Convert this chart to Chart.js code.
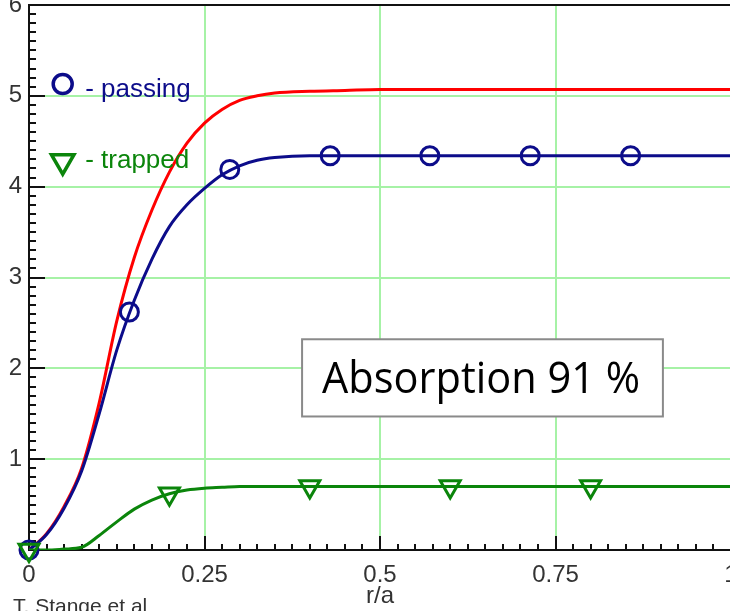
<!DOCTYPE html>
<html>
<head>
<meta charset="utf-8">
<script src="https://cdn.jsdelivr.net/npm/chart.js@4/dist/chart.umd.min.js"></script>
<style>
  html, body { margin: 0; padding: 0; background: #fff; overflow: hidden; }
  #wrap { width: 730px; height: 611px; overflow: hidden; }
  canvas { display: block; }
</style>
</head>
<body>
<div id="wrap"><canvas id="chart" width="740" height="611"></canvas></div>
<script>
const rA = [0, 0.025, 0.05, 0.075, 0.1, 0.125, 0.15, 0.175, 0.2, 0.225, 0.25, 0.275, 0.3, 0.325, 0.35, 0.4, 0.45, 0.5, 0.6, 0.7, 0.8, 0.9, 1.0];
// total (red)
const totalVals = [0, 0.18, 0.48, 0.9, 1.62, 2.52, 3.22, 3.74, 4.16, 4.48, 4.7, 4.85, 4.95, 5.0, 5.03, 5.05, 5.06, 5.07, 5.07, 5.07, 5.07, 5.07, 5.07];
// passing (blue)
const passingVals = [0, 0.17, 0.46, 0.87, 1.5, 2.2, 2.75, 3.2, 3.56, 3.8, 3.98, 4.13, 4.23, 4.29, 4.32, 4.34, 4.34, 4.34, 4.34, 4.34, 4.34, 4.34, 4.34];
// trapped (green)
const trappedVals = [0, 0, 0.01, 0.03, 0.16, 0.31, 0.45, 0.55, 0.62, 0.66, 0.68, 0.69, 0.7, 0.7, 0.7, 0.7, 0.7, 0.7, 0.7, 0.7, 0.7, 0.7, 0.7];

// marker positions
const passMarkX = [0, 0.143, 0.286, 0.429, 0.571, 0.714, 0.857];
const passMarkY = [0, 2.62, 4.19, 4.34, 4.34, 4.34, 4.34];
const trapMarkX = [0, 0.2, 0.4, 0.6, 0.8];
const trapMarkY = [0, 0.62, 0.7, 0.7, 0.7];

const legendLabels = ['- passing', '- trapped'];
const boxText = 'Absorption 91 %';
const creditText = 'T. Stange et al';

const NAVY = '#0c0c8a';
const GREEN = '#0b850b';
const RED = '#ff0000';
const GRID = '#a6f2a6';

const toPts = (xs, ys) => xs.map((x, i) => ({ x: x, y: ys[i] }));

const gridColor = (min, max) => (c) =>
  (c.tick && c.tick.value > min && c.tick.value < max) ? GRID : 'rgba(0,0,0,0)';

const minorTicks = {
  id: 'minorTicks',
  beforeDatasetsDraw(chart) {
    const { ctx, chartArea, scales: { x, y } } = chart;
    ctx.save();
    ctx.strokeStyle = '#111';
    ctx.lineWidth = 2;
    ctx.beginPath();
    for (let i = 0; i <= 40; i++) {
      const px = Math.round(x.getPixelForValue(i * 0.025));
      const len = i % 10 === 0 ? 14 : 6;
      ctx.moveTo(px, chartArea.bottom);
      ctx.lineTo(px, chartArea.bottom - len);
    }
    for (let i = 0; i <= 60; i++) {
      const py = Math.round(y.getPixelForValue(i * 0.1));
      const len = i % 10 === 0 ? 16 : 7;
      ctx.moveTo(chartArea.left, py);
      ctx.lineTo(chartArea.left + len, py);
    }
    ctx.stroke();
    // top frame line
    ctx.beginPath();
    ctx.moveTo(chartArea.left, chartArea.top);
    ctx.lineTo(chartArea.right, chartArea.top);
    ctx.stroke();
    ctx.restore();
  }
};

const overlay = {
  id: 'overlay',
  afterDraw(chart) {
    const { ctx, scales: { x, y } } = chart;
    ctx.save();
    // legend
    ctx.lineWidth = 3.5;
    ctx.strokeStyle = NAVY;
    ctx.beginPath();
    ctx.arc(x.getPixelForValue(0.048), y.getPixelForValue(5.13), 9.5, 0, Math.PI * 2);
    ctx.stroke();
    const tx = x.getPixelForValue(0.048), ty = y.getPixelForValue(4.28), R = 13;
    ctx.strokeStyle = GREEN;
    ctx.beginPath();
    ctx.moveTo(tx, ty + R);
    ctx.lineTo(tx - R * Math.sin(Math.PI / 3), ty - R / 2);
    ctx.lineTo(tx + R * Math.sin(Math.PI / 3), ty - R / 2);
    ctx.closePath();
    ctx.stroke();
    ctx.font = '26px "Liberation Sans", Arial, sans-serif';
    ctx.textBaseline = 'alphabetic';
    ctx.textAlign = 'left';
    ctx.fillStyle = NAVY;
    ctx.fillText(legendLabels[0], x.getPixelForValue(0.08), y.getPixelForValue(4.99));
    ctx.fillStyle = GREEN;
    ctx.fillText(legendLabels[1], x.getPixelForValue(0.08), y.getPixelForValue(4.21));

    // absorption box
    const bl = x.getPixelForValue(0.389), br = x.getPixelForValue(0.903);
    const bt = y.getPixelForValue(2.32), bb = y.getPixelForValue(1.47);
    ctx.fillStyle = '#fff';
    ctx.fillRect(bl, bt, br - bl, bb - bt);
    ctx.strokeStyle = '#8a8a8a';
    ctx.lineWidth = 2;
    ctx.strokeRect(bl, bt, br - bl, bb - bt);
    ctx.font = '43px "Open Sans", "Noto Sans", sans-serif';
    ctx.fillStyle = '#000';
    ctx.textAlign = 'center';
    const w = ctx.measureText(boxText).width;
    const sx = 318 / w;
    ctx.translate(x.getPixelForValue(0.644), y.getPixelForValue(1.725));
    ctx.scale(sx, 1);
    ctx.fillText(boxText, 0, 0);
    ctx.restore();

    // credit line
    ctx.save();
    ctx.font = '21px "Liberation Sans", Arial, sans-serif';
    ctx.fillStyle = '#333';
    ctx.textAlign = 'left';
    ctx.textBaseline = 'alphabetic';
    ctx.fillText(creditText, 13, 613);
    ctx.restore();
  }
};

const tickFont = { family: '"Liberation Sans", Arial, sans-serif', size: 24 };

new Chart(document.getElementById('chart'), {
  type: 'scatter',
  data: {
    datasets: [
      {
        label: 'trapped markers',
        data: toPts(trapMarkX, trapMarkY),
        showLine: false,
        pointStyle: 'triangle',
        rotation: 180,
        pointRadius: 11.5,
        borderWidth: 3,
        borderColor: GREEN,
        backgroundColor: 'rgba(0,0,0,0)',
        clip: false
      },
      {
        label: 'passing markers',
        data: toPts(passMarkX, passMarkY),
        showLine: false,
        pointStyle: 'circle',
        pointRadius: 9,
        borderWidth: 3,
        borderColor: NAVY,
        backgroundColor: 'rgba(0,0,0,0)',
        clip: false
      },
      {
        label: 'trapped',
        data: toPts(rA, trappedVals),
        showLine: true,
        pointRadius: 0,
        borderWidth: 3,
        borderColor: GREEN,
        cubicInterpolationMode: 'monotone'
      },
      {
        label: 'passing',
        data: toPts(rA, passingVals),
        showLine: true,
        pointRadius: 0,
        borderWidth: 3,
        borderColor: NAVY,
        cubicInterpolationMode: 'monotone'
      },
      {
        label: 'total',
        data: toPts(rA, totalVals),
        showLine: true,
        pointRadius: 0,
        borderWidth: 3,
        borderColor: RED,
        cubicInterpolationMode: 'monotone'
      }
    ]
  },
  options: {
    responsive: false,
    devicePixelRatio: 1,
    animation: false,
    layout: { autoPadding: false, padding: { top: 5, right: 9, left: 0, bottom: 0 } },
    plugins: { legend: { display: false }, tooltip: { enabled: false } },
    scales: {
      x: {
        type: 'linear',
        min: 0,
        max: 1,
        ticks: { stepSize: 0.25, font: tickFont, color: '#333', padding: 11, maxRotation: 0, autoSkip: false, callback: (v) => String(v) },
        grid: { color: gridColor(0, 1), lineWidth: 2, drawTicks: false },
        border: { color: '#111', width: 2 },
        title: { display: true, text: 'r/a', font: tickFont, color: '#333', padding: 0 },
        afterFit: (s) => { s.height = 61; s.paddingLeft = 0; s.paddingRight = 0; }
      },
      y: {
        type: 'linear',
        min: 0,
        max: 6,
        ticks: { stepSize: 1, font: tickFont, color: '#333', padding: 7, callback: (v) => v === 0 ? '' : v },
        grid: { color: gridColor(0, 6), lineWidth: 2, drawTicks: false },
        border: { color: '#111', width: 2 },
        afterFit: (s) => { s.width = 29; s.paddingTop = 0; s.paddingBottom = 0; }
      }
    }
  },
  plugins: [minorTicks, overlay]
});
</script>
</body>
</html>
